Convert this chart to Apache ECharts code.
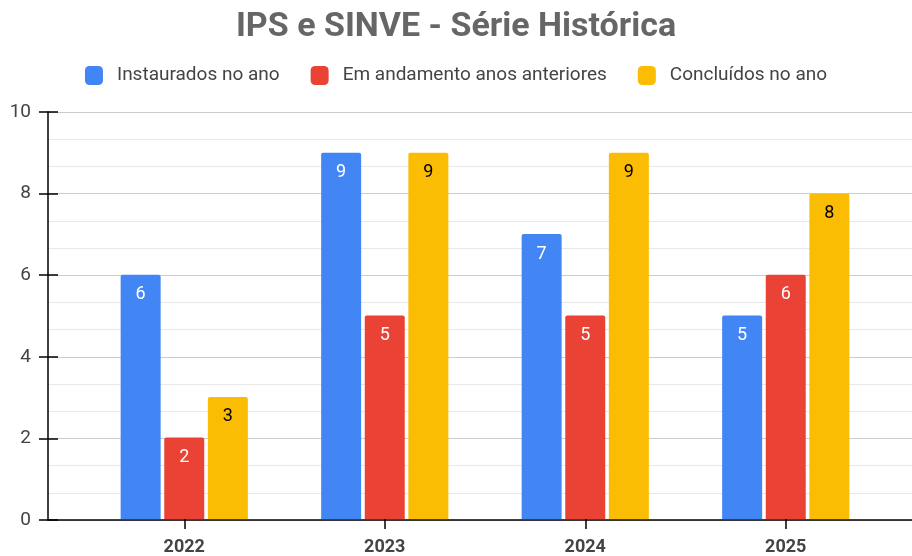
<!DOCTYPE html>
<html>
<head>
<meta charset="utf-8">
<script src="https://cdn.jsdelivr.net/npm/echarts@6/dist/echarts.min.js"></script>
<style>
  html, body { margin: 0; padding: 0; background: #fff; }
  #chart { width: 912px; height: 556px; }
</style>
</head>
<body>
<div id="chart"></div>
<script>
// dados do gráfico
var anos = ['2022', '2023', '2024', '2025'];
var instaurados = [6, 9, 7, 5];
var emAndamento = [2, 5, 5, 6];
var concluidos = [3, 9, 9, 8];
var nomes = ['Instaurados no ano', 'Em andamento anos anteriores', 'Concluídos no ano'];
var cores = ['#4285F4', '#EA4335', '#FBBC04'];

var fonte = 'Roboto, Arial, sans-serif';

var myChart = echarts.init(document.getElementById('chart'));

function serie(i, dados, corLabel) {
    return {
        name: nomes[i],
        type: 'bar',
        xAxisIndex: 1,
        yAxisIndex: 2,
        data: dados,
        barWidth: 40,
        barGap: '9%',
        itemStyle: { color: cores[i], borderRadius: [2, 2, 0, 0] },
        label: {
            show: true,
            position: 'insideTop',
            distance: 11,
            color: corLabel,
            fontFamily: fonte,
            fontSize: 18
        }
    };
}

var option = {
    animation: false,
    title: {
        text: 'IPS e SINVE - Série Histórica',
        left: 'center',
        top: 5,
        textStyle: { fontFamily: fonte, fontSize: 34, fontWeight: 'bold', color: '#666' }
    },
    legend: {
        top: 61,
        left: 'center',
        itemWidth: 18,
        itemHeight: 19,
        itemGap: 31,
        icon: 'roundRect',
        textStyle: { fontFamily: fonte, fontSize: 19, color: '#444', padding: [0, 0, 0, 9] },
        data: nomes
    },
    grid: [
        { left: 48, right: 0, top: 112, bottom: 36 },
        { left: 84, right: 26, top: 112, bottom: 36 }
    ],
    xAxis: [
        // só a linha do eixo, de ponta a ponta
        { gridIndex: 0, type: 'value', min: 0, max: 1, position: 'bottom',
          axisLine: { show: true, lineStyle: { color: '#000', width: 1.5 } },
          axisTick: { show: false }, axisLabel: { show: false }, splitLine: { show: false } },
        { gridIndex: 1, type: 'category', data: anos, position: 'bottom',
          axisLine: { show: false },
          axisTick: { show: true, alignWithLabel: true, length: 10, lineStyle: { color: '#000', width: 1.5 } },
          axisLabel: { fontFamily: fonte, fontSize: 18, fontWeight: 'bold', color: '#444', margin: 19 } },
        { gridIndex: 1, type: 'category', data: anos, position: 'bottom',
          axisLine: { show: false },
          axisTick: { show: true, inside: true, alignWithLabel: true, length: 9, lineStyle: { color: '#000', width: 1.5 } },
          axisLabel: { show: false } }
    ],
    yAxis: [
        { gridIndex: 0, type: 'value', min: 0, max: 10, interval: 2, position: 'left',
          axisLine: { show: true, lineStyle: { color: '#000', width: 1.5 } },
          axisTick: { show: true, length: 9, lineStyle: { color: '#000', width: 1.5 } },
          axisLabel: { fontFamily: fonte, fontSize: 19, color: '#444', margin: 17 },
          splitLine: { show: true, lineStyle: { color: '#cccccc', width: 1 } },
          minorTick: { show: false, splitNumber: 3 },
          minorSplitLine: { show: true, lineStyle: { color: '#e8e8e8', width: 1 } } },
        { gridIndex: 0, type: 'value', min: 0, max: 10, interval: 2, position: 'left',
          axisLine: { show: false },
          axisTick: { show: true, inside: true, length: 10, lineStyle: { color: '#000', width: 1.5 } },
          axisLabel: { show: false }, splitLine: { show: false } },
        { gridIndex: 1, type: 'value', min: 0, max: 10, interval: 2, position: 'left',
          axisLine: { show: false }, axisTick: { show: false },
          axisLabel: { show: false }, splitLine: { show: false } }
    ],
    series: [
        serie(0, instaurados, '#fff'),
        serie(1, emAndamento, '#fff'),
        serie(2, concluidos, '#000')
    ]
};

myChart.setOption(option);
</script>
</body>
</html>
